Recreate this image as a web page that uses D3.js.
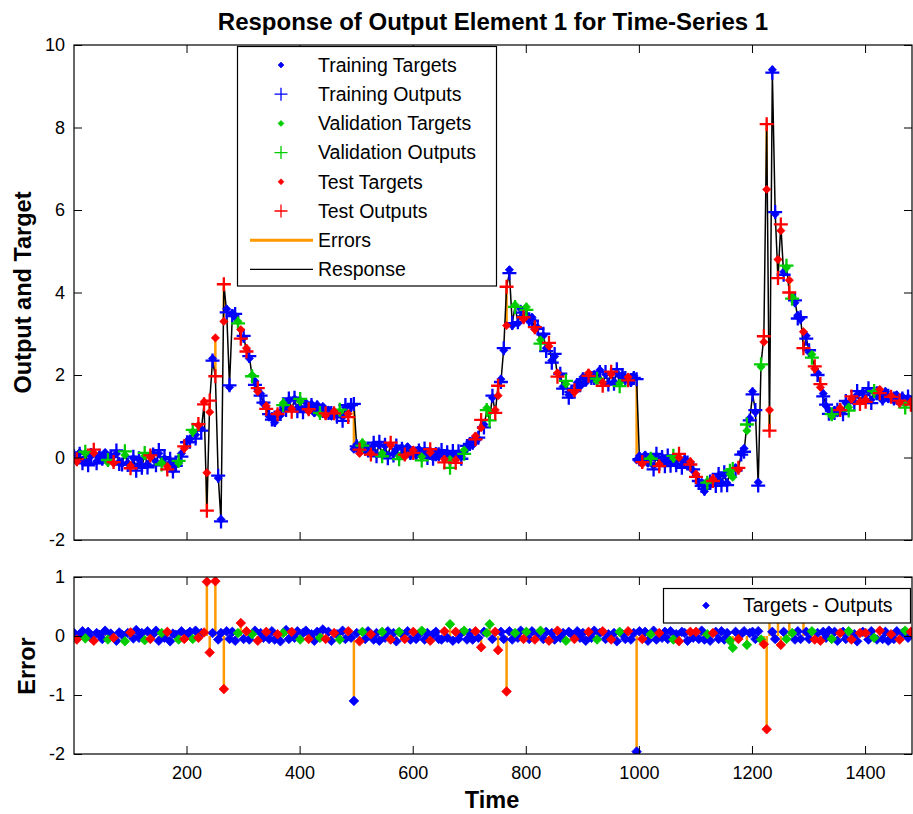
<!DOCTYPE html>
<html><head><meta charset="utf-8">
<script src="https://cdn.jsdelivr.net/npm/d3@7"></script>
<style>body{margin:0;background:#fff} svg{display:block}</style>
</head><body><svg id="c" width="913" height="814"></svg>
<script>
// ---------------- data (time step index k -> t = 1 + 5k) ----------------
const targets = [
 0.08,-0.1,0.12,-0.06,0.1,-0.12,0.03,0.11,-0.09,0.06,
 -0.08,0.12,-0.12,0.05,-0.14,0.09,-0.1,-0.15,0.06,-0.13,
 -0.2,-0.02,-0.22,-0.05,-0.2,0.04,-0.16,0.0,0.1,-0.1,
 0.1,-0.12,-0.02,-0.22,-0.12,-0.3,-0.18,-0.14,0.1,0.22,
 0.4,0.45,0.62,0.55,0.78,0.7,1.35,-0.37,1.1,2.4,
 2.9,-0.5,-1.5,3.3,3.6,1.7,3.5,3.4,3.3,3.1,
 2.9,2.65,2.4,2.0,1.85,1.6,1.55,1.3,1.25,1.0,
 1.0,0.85,1.08,1.02,1.32,1.25,1.38,1.18,1.42,1.2,
 1.36,1.15,1.33,1.12,1.3,1.08,1.28,1.05,1.24,1.02,
 1.15,1.0,1.12,1.02,1.1,0.98,1.22,1.06,1.24,0.2,
 0.32,0.1,0.36,0.16,0.25,0.1,0.3,0.08,0.3,0.1,
 0.28,0.06,0.3,0.1,0.2,0.03,0.24,0.02,0.26,0.05,
 0.18,0.05,0.2,0.02,0.16,0.04,0.12,0.0,0.15,0.03,
 0.12,-0.04,0.1,-0.05,0.08,-0.06,0.1,0.02,0.18,0.22,
 0.38,0.3,0.52,0.45,0.72,0.8,1.2,1.1,1.45,1.15,
 1.5,1.9,2.6,3.2,4.55,3.2,3.7,3.25,3.6,3.35,
 3.65,3.3,3.4,3.1,3.15,2.85,2.95,2.65,2.7,2.35,
 2.45,2.05,2.0,1.72,1.78,1.52,1.62,1.58,1.82,1.72,
 1.95,1.82,2.05,1.9,2.02,1.85,2.12,1.82,2.02,1.8,
 2.02,1.84,2.05,1.8,2.0,1.88,1.95,1.82,1.98,-0.06,
 0.04,-0.16,0.06,-0.14,0.0,-0.2,0.03,-0.16,-0.02,-0.14,
 0.0,-0.12,-0.02,-0.16,0.0,-0.18,-0.04,-0.2,-0.1,-0.32,
 -0.4,-0.62,-0.6,-0.82,-0.58,-0.66,-0.52,-0.62,-0.45,-0.6,
 -0.42,-0.62,-0.4,-0.48,-0.25,-0.3,0.1,0.22,0.65,0.95,
 1.6,1.1,-0.6,2.2,2.8,6.5,1.15,9.4,5.9,4.8,
 5.5,4.5,4.6,4.3,3.9,3.75,3.45,3.35,3.05,2.95,
 2.55,2.5,2.15,2.05,1.7,1.55,1.25,1.15,1.0,1.15,
 1.08,1.2,1.12,1.32,1.22,1.42,1.35,1.52,1.35,1.58,
 1.4,1.62,1.4,1.58,1.5,1.65,1.38,1.6,1.42,1.5,
 1.38,1.52,1.32,1.48,1.3,1.45,1.35
];
// errors = targets - outputs
const errors = [
 0.05,-0.06,0.03,0.08,-0.04,0.07,-0.03,-0.08,0.05,0.02,
 -0.05,0.09,-0.06,0.04,-0.03,-0.08,0.06,0.02,-0.09,0.05,
 0.06,-0.04,0.1,-0.03,0.05,-0.07,0.08,-0.05,0.03,0.09,
 -0.08,0.05,-0.03,0.07,-0.09,0.04,0.02,-0.06,0.08,-0.05,
 0.03,0.07,-0.05,0.09,-0.03,0.05,0.06,0.92,-0.28,0.05,
 0.93,-0.06,0.05,-0.9,0.08,-0.05,0.07,-0.08,0.05,0.22,
 -0.05,0.08,-0.06,0.03,0.09,-0.08,0.05,-0.03,0.07,-0.05,
 0.08,-0.06,0.03,-0.09,0.05,0.1,-0.05,0.07,-0.03,0.08,
 -0.06,0.05,0.09,-0.05,0.03,-0.08,0.07,-0.03,0.11,-0.05,
 0.07,-0.08,0.05,0.03,-0.06,0.09,-0.05,0.08,-0.03,-1.1,
 0.05,-0.09,0.07,-0.05,0.08,0.03,-0.06,0.05,-0.08,0.07,
 -0.03,0.08,-0.06,0.05,-0.09,0.07,0.03,-0.05,0.08,-0.06,
 0.07,-0.05,0.03,0.09,-0.06,0.05,-0.08,0.03,0.07,-0.05,
 -0.06,0.08,-0.03,0.2,-0.08,0.07,-0.05,0.05,0.09,-0.06,
 0.05,-0.06,0.08,-0.03,-0.19,0.07,0.05,0.2,-0.05,0.07,
 -0.24,0.07,-0.05,-0.94,0.08,-0.06,0.05,-0.03,0.09,-0.05,
 0.07,-0.05,0.08,-0.06,0.03,0.09,-0.05,0.07,-0.08,0.05,
 -0.06,0.09,-0.03,0.05,-0.08,0.07,0.03,-0.05,0.08,-0.03,
 0.05,-0.08,0.07,-0.03,0.09,-0.06,0.05,0.08,-0.05,0.03,
 -0.06,0.05,-0.09,0.07,0.03,-0.05,0.08,-0.06,0.05,-1.96,
 0.08,-0.05,0.07,-0.08,0.03,0.09,-0.06,0.05,-0.03,0.07,
 -0.05,0.08,-0.06,0.03,-0.09,0.07,0.05,-0.08,0.07,-0.03,
 0.07,-0.05,0.09,-0.06,0.03,-0.08,0.05,0.07,-0.05,0.08,
 -0.06,0.05,-0.08,-0.2,0.07,-0.05,0.03,0.08,-0.15,0.05,
 0.07,-0.05,0.08,-0.06,-0.14,-1.58,0.5,0.07,-0.05,0.45,
 -0.15,0.07,-0.05,0.3,0.05,-0.06,0.08,-0.05,0.4,0.07,
 -0.05,0.08,-0.06,0.05,-0.08,0.07,-0.03,0.09,-0.05,0.07,
 -0.08,0.05,0.07,-0.05,0.08,-0.06,0.03,-0.09,0.05,0.07,
 0.05,-0.06,0.08,-0.03,-0.06,0.09,-0.05,0.07,-0.08,0.03,
 -0.05,0.08,-0.06,0.05,0.09,-0.03,0.07
];
// T = training, V = validation, S = test
const sets = (
 "TSTTVTTSTT"+"TTVTSTTTVT"+"STTTTVTSTT"+"TVTSTTTVTS"+"TTVTSTSSST"+
 "STTSTTTTVS"+"TSTVTSTTST"+"TTSTVTTSTT"+"VTTSTTTVTS"+"TTSTVTTSTT"+
 "TSVTTSTTTV"+"TTSTTVTSTT"+"STTVTTSTTT"+"TSTVTSTTVT"+"TTSTSTVVTS"+
 "STTSTTVTTS"+"VTTSTVTTST"+"TSTTVTTSTT"+"TTSTTVTSTT"+"STTVTTSTTT"+
 "TSTTVTTSTT"+"TTVTSTTTST"+"STTTVTSTTT"+"TTVVTSTTVT"+"TTTVSSSTTS"+
 "STVSVTTTST"+"TVSTSTTTVT"+"TSTTVSTTST"+"STTVTSTTTS"+"TTSTVTS").split("");
const timeStart = 1, timeStep = 5, timeEnd = 1483;
const xTicks = [200,400,600,800,1000,1200,1400];
const yTicksTop = [-2,0,2,4,6,8,10];
const yTicksErr = [-2,-1,0,1];
const legendTop = [
 {label:"Training Targets", kind:"diamond", set:"T"},
 {label:"Training Outputs", kind:"plus", set:"T"},
 {label:"Validation Targets", kind:"diamond", set:"V"},
 {label:"Validation Outputs", kind:"plus", set:"V"},
 {label:"Test Targets", kind:"diamond", set:"S"},
 {label:"Test Outputs", kind:"plus", set:"S"},
 {label:"Errors", kind:"errline"},
 {label:"Response", kind:"respline"}
];

// ---------------- drawing ----------------
const FONT = 'Arial, "Liberation Sans", Helvetica, sans-serif';
const colorOf = {T:"#0000ff", V:"#00cc00", S:"#ff0000"};
const ORANGE = "#ff9900";
const n = Math.min(targets.length, errors.length, sets.length);
const pts = d3.range(n).map(i => ({
  t: timeStart + timeStep*i, tg: targets[i], err: errors[i],
  out: targets[i] - errors[i], set: sets[i]
}));

const L = 74, R = 912;
const x = d3.scaleLinear().domain([timeStart, timeEnd]).range([L, R]);
const yTop = d3.scaleLinear().domain([-2, 10]).range([540, 45]);
const yErr = d3.scaleLinear().domain([-2, 1]).range([754, 577]);

const svg = d3.select("#c").style("font-family", FONT);
const defs = svg.append("defs");
defs.append("clipPath").attr("id","clipTop").append("rect")
  .attr("x",L).attr("y",45).attr("width",R-L).attr("height",495);
defs.append("clipPath").attr("id","clipErr").append("rect")
  .attr("x",L).attr("y",577).attr("width",R-L).attr("height",177);

const diamond = (cx, cy, r) => `M${cx},${cy-r}L${cx+r},${cy}L${cx},${cy+r}L${cx-r},${cy}Z`;
const plus = (cx, cy, r) => `M${cx-r},${cy}H${cx+r}M${cx},${cy-r}V${cy+r}`;
const DR = 4.2, PR = 7, DR2 = 4.8;

// --- top axes data
const gTop = svg.append("g").attr("clip-path","url(#clipTop)");
gTop.selectAll("line.err").data(pts).join("line")
  .attr("x1", d=>x(d.t)).attr("x2", d=>x(d.t))
  .attr("y1", d=>yTop(d.tg)).attr("y2", d=>yTop(d.out))
  .attr("stroke", ORANGE).attr("stroke-width", 2.5);
gTop.append("path").datum(pts)
  .attr("d", d3.line().x(d=>x(d.t)).y(d=>yTop(d.out)))
  .attr("fill","none").attr("stroke","#000").attr("stroke-width",1.5);
["T","V","S"].forEach(s => {
  const sub = pts.filter(d => d.set === s);
  gTop.append("path")
    .attr("d", sub.map(d => diamond(x(d.t), yTop(d.tg), DR)).join(""))
    .attr("fill", colorOf[s]).attr("stroke", colorOf[s]).attr("stroke-width",0.6);
  gTop.append("path")
    .attr("d", sub.map(d => plus(x(d.t), yTop(d.out), PR)).join(""))
    .attr("fill","none").attr("stroke", colorOf[s]).attr("stroke-width",2.3);
});

// --- error axes data
const gErr = svg.append("g").attr("clip-path","url(#clipErr)");
gErr.selectAll("line.stem").data(pts).join("line")
  .attr("x1", d=>x(d.t)).attr("x2", d=>x(d.t))
  .attr("y1", yErr(0)).attr("y2", d=>yErr(d.err))
  .attr("stroke", ORANGE).attr("stroke-width", 2.5);
["T","V","S"].forEach(s => {
  const sub = pts.filter(d => d.set === s);
  gErr.append("path")
    .attr("d", sub.map(d => diamond(x(d.t), yErr(d.err), DR2)).join(""))
    .attr("fill", colorOf[s]).attr("stroke", colorOf[s]).attr("stroke-width",0.8);
});

// --- axes
const fmt = d => String(d);
function styleAxis(g){
  g.select(".domain").remove();
  g.selectAll(".tick line").attr("stroke","#000").attr("stroke-width",1);
  g.selectAll(".tick text").attr("fill","#000").style("font-size","18px").style("font-family",FONT);
}
function frame(top, bottom, yScale, yTicks, labelsX){
  svg.append("g").attr("transform",`translate(0,${bottom})`)
    .call(d3.axisBottom(x).tickValues(xTicks).tickSizeInner(-8).tickSizeOuter(0).tickPadding(12)
      .tickFormat(labelsX ? fmt : () => "")).call(styleAxis);
  svg.append("g").attr("transform",`translate(0,${top})`)
    .call(d3.axisTop(x).tickValues(xTicks).tickSizeInner(-8).tickSizeOuter(0).tickFormat(() => "")).call(styleAxis);
  svg.append("g").attr("transform",`translate(${L},0)`)
    .call(d3.axisLeft(yScale).tickValues(yTicks).tickSizeInner(-8).tickSizeOuter(0).tickPadding(9).tickFormat(fmt)).call(styleAxis);
  svg.append("g").attr("transform",`translate(${R},0)`)
    .call(d3.axisRight(yScale).tickValues(yTicks).tickSizeInner(-8).tickSizeOuter(0).tickFormat(() => "")).call(styleAxis);
  svg.append("rect").attr("x",L).attr("y",top).attr("width",R-L).attr("height",bottom-top)
    .attr("fill","none").attr("stroke","#000").attr("stroke-width",1.2);
}
frame(45, 540, yTop, yTicksTop, false);
frame(577, 754, yErr, yTicksErr, true);

// --- titles / labels
svg.append("text").attr("x",493).attr("y",30).attr("text-anchor","middle")
  .style("font-size","24px").style("font-weight","bold").text("Response of Output Element 1 for Time-Series 1");
svg.append("text").attr("transform","translate(31,292.5) rotate(-90)").attr("text-anchor","middle")
  .style("font-size","23.5px").style("font-weight","bold").text("Output and Target");
svg.append("text").attr("transform","translate(34.5,666) rotate(-90)").attr("text-anchor","middle")
  .style("font-size","23.5px").style("font-weight","bold").text("Error");
svg.append("text").attr("x",492).attr("y",808).attr("text-anchor","middle")
  .style("font-size","23.5px").style("font-weight","bold").text("Time");

// --- legend top
const lg = svg.append("g");
lg.append("rect").attr("x",237.5).attr("y",46.5).attr("width",259).attr("height",239.5)
  .attr("fill","#fff").attr("stroke","#000").attr("stroke-width",1.2);
legendTop.forEach((e, i) => {
  const cy = 65 + i*29.2;
  if (e.kind === "diamond")
    lg.append("path").attr("d", diamond(281, cy, 3)).attr("fill", colorOf[e.set]).attr("stroke", colorOf[e.set]).attr("stroke-width",0.6);
  else if (e.kind === "plus")
    lg.append("path").attr("d", plus(281, cy, 6.5)).attr("fill","none").attr("stroke", colorOf[e.set]).attr("stroke-width",1.3);
  else if (e.kind === "errline")
    lg.append("line").attr("x1",250).attr("x2",313).attr("y1",cy).attr("y2",cy).attr("stroke",ORANGE).attr("stroke-width",3);
  else
    lg.append("line").attr("x1",250).attr("x2",313).attr("y1",cy).attr("y2",cy).attr("stroke","#000").attr("stroke-width",1.3);
  lg.append("text").attr("x",318).attr("y",cy).attr("dy","0.35em")
    .style("font-size","19.5px").text(e.label);
});

// --- legend bottom
const lg2 = svg.append("g");
lg2.append("rect").attr("x",663.5).attr("y",588.5).attr("width",247).attr("height",34.5)
  .attr("fill","#fff").attr("stroke","#000").attr("stroke-width",1.2);
lg2.append("path").attr("d", diamond(706, 605.5, 3.5)).attr("fill",colorOf.T).attr("stroke",colorOf.T).attr("stroke-width",0.6);
lg2.append("text").attr("x",743).attr("y",605.5).attr("dy","0.35em").style("font-size","19.5px").text("Targets - Outputs");
</script>
</body></html>
